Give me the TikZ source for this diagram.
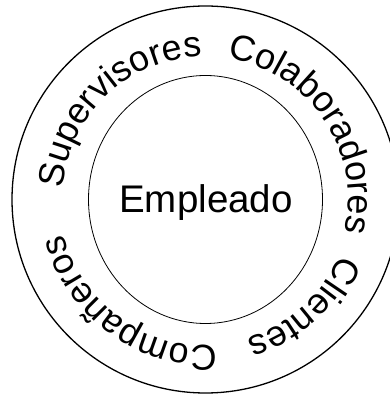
\documentclass[tikz,border=0pt]{standalone}
\usepackage{fontspec}
\setmainfont{Liberation Sans}
\usetikzlibrary{shapes.geometric,decorations.text}
\tikzset{
  ring/.style={circle, draw, line width=1.3pt, minimum size=387pt, inner sep=0pt},
  core/.style={ellipse, draw, line width=0.8pt, minimum width=234pt, minimum height=248pt, inner sep=0pt},
  label/.style={font=\fontsize{38.5}{42}\selectfont},
  arcword/.style={decorate, decoration={text along path, text align=center,
     text={|\fontsize{36}{40}\selectfont|#1}}}
}
\begin{document}
\begin{tikzpicture}[x=1pt,y=1pt]
\clip (0,0) rectangle (390,396);
\coordinate (c) at (205.5,196.5);
\node[ring] (outer) at (c) {};
\node[core] (inner) at (c) {};
\node[label, anchor=base] (emp) at (206,183) {Empleado};
\path[arcword={Supervisores}] ([shift={(193.5:143pt)}]c) arc[start angle=193.5, end angle=73.5, radius=143pt];
\path[arcword={Colaboradores}] ([shift={(94:143pt)}]c) arc[start angle=94, end angle=-26, radius=143pt];
\path[arcword={Clientes}] ([shift={(12:145pt)}]c) arc[start angle=12, end angle=-108, radius=145pt];
\path[arcword={Compañeros}] ([shift={(-66:146pt)}]c) arc[start angle=-66, end angle=-186, radius=146pt];
\end{tikzpicture}
\end{document}
